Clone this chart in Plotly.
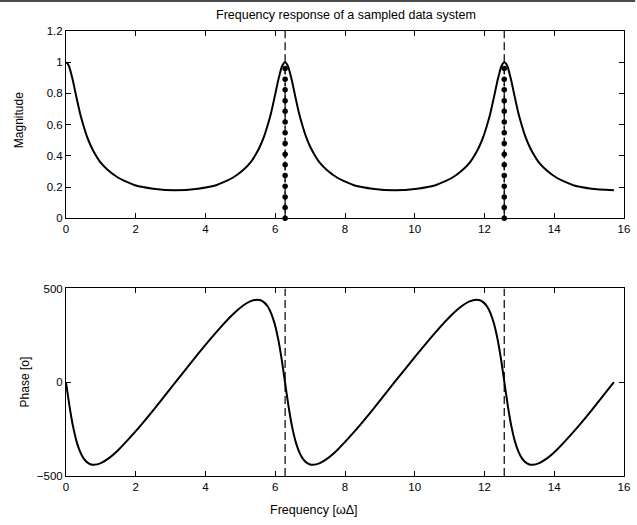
import plotly.graph_objects as go

# ---- data ----
freq = [
    0.00, 0.05, 0.10, 0.15, 0.20, 0.30, 0.40, 0.50, 0.60, 0.70, 0.80, 1.00, 1.20, 1.50, 2.00, 2.50, 3.14,
    3.78, 4.28, 4.78, 5.08, 5.28, 5.48, 5.58, 5.68, 5.78, 5.88, 5.98, 6.08, 6.13, 6.18, 6.23, 6.28,
    6.33, 6.38, 6.43, 6.48, 6.58, 6.68, 6.78, 6.88, 6.98, 7.08, 7.28, 7.48, 7.78, 8.28, 8.78, 9.42,
    10.07, 10.57, 11.07, 11.37, 11.57, 11.77, 11.87, 11.97, 12.07, 12.17, 12.27, 12.37, 12.42, 12.47, 12.52, 12.57,
    12.62, 12.67, 12.72, 12.77, 12.87, 12.97, 13.07, 13.17, 13.27, 13.37, 13.57, 13.77, 14.07, 14.57, 15.07, 15.71,
]
magnitude = [
    1.00, 0.99, 0.965, 0.925, 0.88, 0.775, 0.675, 0.595, 0.525, 0.47, 0.425, 0.355, 0.31, 0.26, 0.21, 0.19, 0.18,
    0.19, 0.21, 0.26, 0.31, 0.355, 0.425, 0.47, 0.525, 0.595, 0.675, 0.775, 0.88, 0.925, 0.965, 0.99, 1.00,
    0.99, 0.965, 0.925, 0.88, 0.775, 0.675, 0.595, 0.525, 0.47, 0.425, 0.355, 0.31, 0.26, 0.21, 0.19, 0.18,
    0.19, 0.21, 0.26, 0.31, 0.355, 0.425, 0.47, 0.525, 0.595, 0.675, 0.775, 0.88, 0.925, 0.965, 0.99, 1.00,
    0.99, 0.965, 0.925, 0.88, 0.775, 0.675, 0.595, 0.525, 0.47, 0.425, 0.355, 0.31, 0.26, 0.21, 0.19, 0.18,
]
phase = [
    0, -65, -127, -184, -234, -314, -369, -405, -426, -437, -440, -431, -409, -361, -261, -150, 0,
    150, 261, 361, 409, 431, 440, 437, 426, 405, 369, 314, 234, 184, 127, 65, 0,
    -65, -127, -184, -234, -314, -369, -405, -426, -437, -440, -431, -409, -361, -261, -150, 0,
    150, 261, 361, 409, 431, 440, 437, 426, 405, 369, 314, 234, 184, 127, 65, 0,
    -65, -127, -184, -234, -314, -369, -405, -426, -437, -440, -431, -409, -361, -261, -150, 0,
]
peak_freqs = [6.283, 12.566]
stem_levels = [0, 0.069, 0.137, 0.206, 0.274, 0.343, 0.411, 0.48, 0.549, 0.617,
               0.686, 0.754, 0.823, 0.891, 0.96]
x_ticks = [0, 2, 4, 6, 8, 10, 12, 14, 16]
mag_ticks = [0, 0.2, 0.4, 0.6, 0.8, 1, 1.2]
phase_ticks = [-500, 0, 500]
mag_range = [0, 1.2]
phase_range = [-500, 500]

FONT = "Liberation Sans, Arial, Helvetica, sans-serif"
fig = go.Figure()

# top panel
for p in peak_freqs:
    fig.add_trace(go.Scatter(x=[p, p], y=mag_range, mode="lines",
                             line=dict(color="black", width=1.2, dash="8px,4px"),
                             xaxis="x", yaxis="y", showlegend=False, hoverinfo="skip"))
fig.add_trace(go.Scatter(x=freq, y=magnitude, mode="lines",
                         line=dict(color="black", width=2, shape="spline", smoothing=0.6),
                         xaxis="x", yaxis="y", showlegend=False))
for p in peak_freqs:
    fig.add_trace(go.Scatter(x=[p] * len(stem_levels), y=stem_levels, mode="lines+markers",
                             line=dict(color="black", width=1, dash="dot"),
                             marker=dict(color="black", size=5.5),
                             cliponaxis=False,
                             xaxis="x", yaxis="y", showlegend=False))

# bottom panel
for p in peak_freqs:
    fig.add_trace(go.Scatter(x=[p, p], y=phase_range, mode="lines",
                             line=dict(color="black", width=1.2, dash="8px,4px"),
                             xaxis="x2", yaxis="y2", showlegend=False, hoverinfo="skip"))
fig.add_trace(go.Scatter(x=freq, y=phase, mode="lines",
                         line=dict(color="black", width=2, shape="spline", smoothing=0.6),
                         xaxis="x2", yaxis="y2", showlegend=False))

axis_common = dict(showline=True, linecolor="black", linewidth=1, mirror="ticks",
                   ticks="inside", ticklen=5, tickwidth=1, tickcolor="black",
                   showgrid=False, zeroline=False,
                   tickfont=dict(family=FONT, size=11.5, color="black"))

fig.update_layout(
    width=637, height=525,
    margin=dict(l=66, r=7, t=31, b=49),
    paper_bgcolor="white", plot_bgcolor="white",
    font=dict(family=FONT, size=12, color="black"),
    xaxis=dict(domain=[0, 1], anchor="y", range=[0, 16], tickvals=x_ticks, **axis_common),
    yaxis=dict(domain=[0.579, 1], anchor="x", range=mag_range, tickvals=mag_ticks, **axis_common),
    xaxis2=dict(domain=[0, 1], anchor="y2", range=[0, 16], tickvals=x_ticks, **axis_common),
    yaxis2=dict(domain=[0, 0.4214], anchor="x2", range=phase_range, tickvals=phase_ticks, **axis_common),
    annotations=[
        dict(text="Frequency response of a sampled data system", xref="paper", yref="paper",
             x=0.5018, y=1.036, showarrow=False, xanchor="center", yanchor="middle",
             font=dict(family=FONT, size=12.5)),
        dict(text="Magnitude", xref="paper", yref="paper", x=-0.0839, y=0.8,
             showarrow=False, textangle=-90, xanchor="center", yanchor="middle",
             font=dict(family=FONT, size=12)),
        dict(text="Phase [o]", xref="paper", yref="paper", x=-0.0727, y=0.2112,
             showarrow=False, textangle=-90, xanchor="center", yanchor="middle",
             font=dict(family=FONT, size=12)),
        dict(text="Frequency [ωΔ]", xref="paper", yref="paper", x=0.4443, y=-0.0764,
             showarrow=False, xanchor="center", yanchor="middle",
             font=dict(family=FONT, size=12.5)),
    ],
    shapes=[dict(type="rect", xref="paper", yref="paper", x0=-0.12, x1=1.02,
                 y0=1.0652, y1=1.0697, fillcolor="#4a4a4a", line=dict(width=0), layer="above")],
)

fig.write_html("out.html", config={"displayModeBar": False},
               post_script="document.body.style.margin='0';document.body.style.overflow='hidden';")
